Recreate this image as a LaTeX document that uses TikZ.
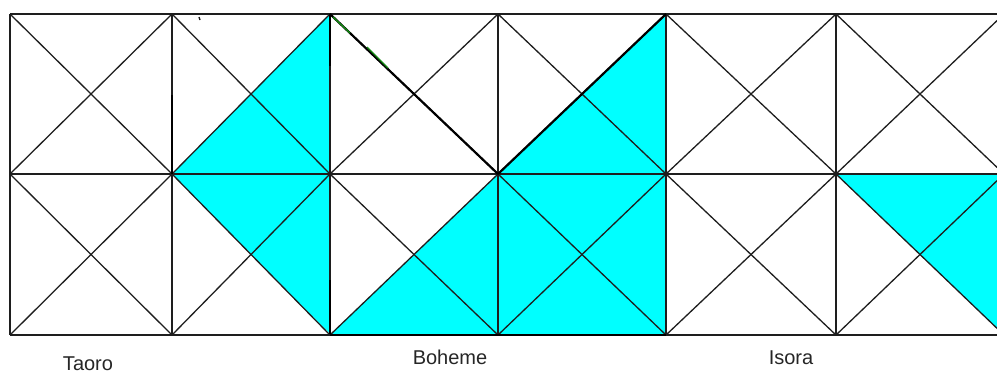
\documentclass[tikz,border=0pt]{standalone}
\usepackage{fontspec}
\setmainfont{Liberation Sans}
\definecolor{aqua}{RGB}{0,255,255}
\definecolor{gridgray}{RGB}{30,30,30}
\definecolor{pengreen}{RGB}{20,140,20}
\begin{document}
\begin{tikzpicture}[x=1pt,y=-1pt,
  gridline/.style={draw=gridgray, line width=1.3pt},
  heavy/.style={draw=black, line width=2.2pt},
  tint/.style={fill=aqua, draw=none},
  greenpen/.style={draw=pengreen, line width=1.4pt},
  lab/.style={font=\fontsize{20}{24}\selectfont, anchor=base, text=black!85}]
\useasboundingbox (0,0) rectangle (997,376);
\fill[white] (0,0) rectangle (997,376);
\begin{scope}
\clip (0,0) rectangle (997,376);
% cyan regions
\fill[tint] (172,174) -- (330,14) -- (330,334) -- cycle;
\fill[tint] (330,335) -- (666,14) -- (666,335) -- cycle;
\fill[tint] (836,174) -- (1004,174) -- (1004,335) -- cycle;
% grid lines
\draw[gridline] (10,14) -- (1004,14);
\draw[gridline] (10,174) -- (1004,174);
\draw[gridline] (10,335) -- (1004,335);
\foreach \a in {10,172,330,498,666,836}
  \draw[gridline] (\a,14) -- (\a,335);
\foreach \a/\b in {10/172,172/330,330/498,498/666,666/836,836/1004}
  \foreach \t/\u in {14/174,174/335}
    \draw[gridline] (\a,\t) -- (\b,\u) (\a,\u) -- (\b,\t);
% heavier pen strokes
\draw[heavy] (172,95) -- (172,174);
\draw[heavy] (330,14) -- (330,66);
\draw[heavy] (330,280) -- (330,334);
\draw[heavy] (330,14) -- (498,174);
\draw[heavy] (498,174) -- (666,14);
\draw[heavy] (330,335) -- (666,335);
\draw[greenpen] (333,17) -- (350,33);
\draw[greenpen] (367,47) -- (388,68);
\draw[gridline] (199,17) -- (200,20);
\end{scope}
% labels
\node[lab] (taoro) at (88,370) {Taoro};
\node[lab] (boheme) at (450,364) {Boheme};
\node[lab] (isora) at (791,364) {Isora};
\end{tikzpicture}
\end{document}
